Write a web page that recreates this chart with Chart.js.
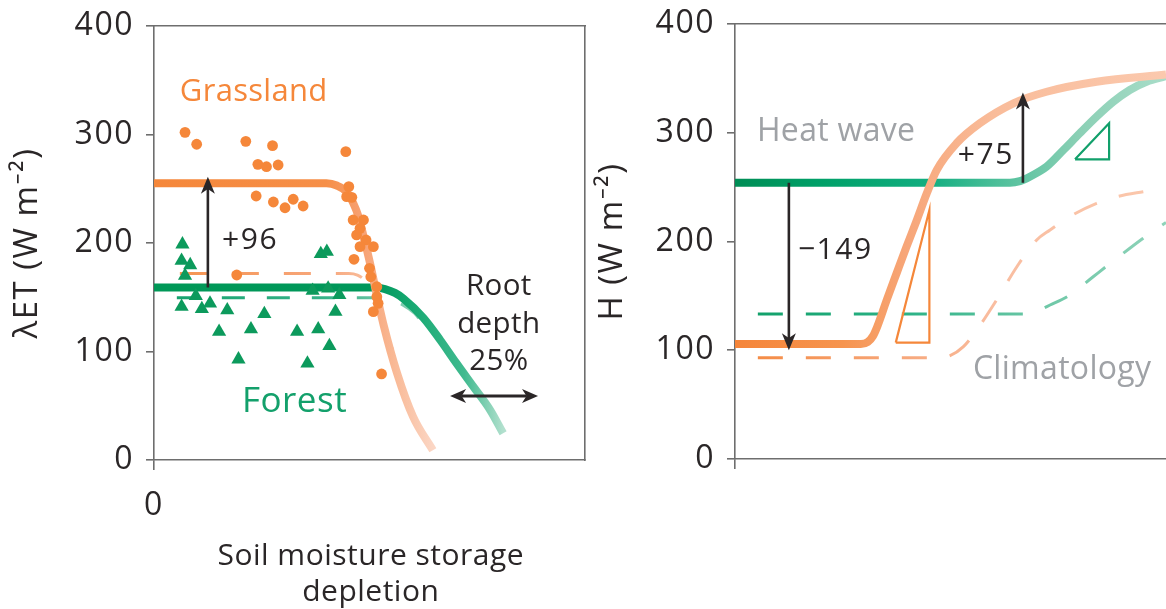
<!DOCTYPE html>
<html>
<head>
<meta charset="utf-8">
<script src="https://cdn.jsdelivr.net/npm/chart.js@4.4.1/dist/chart.umd.min.js"></script>
<style>
  html, body { margin: 0; padding: 0; background: #fff; overflow: hidden; width: 1166px; height: 609px; }
  canvas { position: absolute; top: 0; }
  #et { left: 0; }
  #h  { left: 590px; }
</style>
</head>
<body>
<canvas id="et" width="600" height="609"></canvas>
<canvas id="h" width="600" height="609"></canvas>
<script>
// ---------- Left panel: latent heat flux (λET) vs soil moisture storage depletion ----------
const yTicks = [0, 100, 200, 300, 400];
const xTicks = [0];

// heat-wave curves
const grassHeatX  = [0, 40, 42.4, 44.7, 46.2, 47.4, 48.7, 50.2, 51.8, 53.3, 56.4, 60.1, 64.7];
const grassHeatET = [255, 255, 253, 247, 237, 225, 205, 180, 150, 124, 80, 40, 9];
const forestHeatX  = [0, 51.5, 53.6, 55.9, 57.8, 62.5, 66.4, 70.2, 74.1, 78, 81];
const forestHeatET = [159, 159, 157.5, 154, 149, 131, 110.6, 89, 67.6, 46, 24.6];

// climatology curves
const grassClimX  = [6.0, 45.2, 47.2, 48.8, 50.6, 52.5, 54.0, 55.4];
const grassClimET = [172, 172, 170.5, 166, 155, 138, 120, 102];
const forestClimX  = [5.3, 50.5, 54.5, 57.7, 60.5, 62.5];
const forestClimET = [149.6, 149.6, 147.5, 143, 135, 125];

// site observations
const grassObsX  = [7.2, 9.9, 21.3, 27.5, 24.1, 26.1, 28.8, 44.5, 23.7, 27.7, 30.4, 32.3, 34.6, 45.2, 44.7, 45.9,
                    46.2, 48.6, 47.8, 47.0, 49.2, 50.9, 47.8, 46.4, 50.0, 50.3, 51.7, 51.7, 52.0, 50.9, 52.8, 19.2];
const grassObsET = [302, 291, 293.7, 289.7, 272.5, 270.3, 271.9, 284.2, 243.3, 237.8, 232.5, 240.3, 234.1, 251.9, 242.7, 242.1,
                    221.2, 221.2, 213.5, 207.4, 202.8, 196.6, 196.6, 185, 176.7, 168.9, 159.7, 150.5, 144.4, 136.7, 79.3, 170.5];
const forestObsX  = [6.6, 6.4, 8.4, 7.2, 9.7, 6.4, 11.1, 13.0, 17.0, 25.6, 15.1, 22.5, 33.2, 38.1, 42.1, 40.7,
                     19.6, 35.6, 38.7, 40.1, 36.8, 40.4, 43.0];
const forestObsET = [198.8, 183.7, 179.7, 169.9, 151.2, 141.3, 139.2, 144.4, 138, 134.6, 118.2, 120.5, 118.2, 120.5, 136.7, 105.1,
                     92.8, 89.1, 189.9, 192, 156, 158.2, 152.1];

// ---------- Right panel: sensible heat flux (H) ----------
const forestHeatHX = [0, 63.8, 66.1, 68.4, 72.3, 76.2, 80.0, 83.9, 87.8, 91.6, 95.5, 100];
const forestHeatH  = [254, 254, 255.5, 259.6, 268.8, 284.1, 299.5, 314.8, 328.6, 339.3, 346.9, 352];
const grassHeatHX  = [0, 29.2, 30.8, 32.0, 33.0, 35.2, 37.5, 39.8, 42.2, 44.5, 46.8, 51.4, 56.8, 64.6, 72.3, 83.9, 100];
const grassHeatH   = [105.7, 105.7, 107.5, 113, 121.7, 146.2, 170.8, 195.2, 219.8, 244.3, 265.7, 290.3, 308.7, 327.1, 337.7, 346.9, 353.5];
const forestClimHX = [5.3, 66.8, 69.6, 73.1, 77.7, 83.1, 88.6, 94.7, 100];
const forestClimH  = [133.3, 133.3, 135.5, 141.6, 150.8, 167.6, 184.6, 203, 217.5];
const grassClimHX  = [5.3, 44.5, 47.5, 49.9, 53.0, 56.1, 60.7, 65.4, 70.0, 73.1, 77.7, 83.9, 88.6, 94.7, 100];
const grassClimH   = [93.2, 93.2, 93.4, 95, 103.3, 118.6, 146.2, 176.8, 201.4, 210.6, 223, 235.1, 241.2, 245.8, 249.2];

// slope wedges drawn beside the rising curves
const grassWedgeX  = [37.3, 45.1, 45.1, 37.3];
const grassWedgeH  = [107, 107, 229, 107];
const forestWedgeX = [78.9, 86.8, 86.8, 78.9];
const forestWedgeH = [275.6, 275.6, 308.7, 275.6];

// ---------- styling ----------
const FONT = "'Open Sans', 'Noto Sans', sans-serif";
const WEIGHT = 400;
const INK = '#2a2627';
const AXIS = '#6e6e6e';
const ORANGE = '#F5873A';
const GREEN = '#0C9A5C';
const GREY = '#9FA2A6';

Chart.defaults.font.family = FONT;
Chart.defaults.font.weight = WEIGHT;
Chart.defaults.color = INK;

const zip = (xs, ys) => xs.map((x, i) => ({ x, y: ys[i] }));

// horizontal colour fade along the x scale
function fade(stops) {
  return (c) => {
    const chart = c.chart, area = chart.chartArea, sx = chart.scales.x;
    if (!area) return stops[0][1];
    const g = chart.ctx.createLinearGradient(area.left, 0, area.right, 0);
    const w = area.right - area.left;
    stops.forEach(([v, col]) => {
      const t = Math.min(1, Math.max(0, (sx.getPixelForValue(v) - area.left) / w));
      g.addColorStop(t, col);
    });
    return g;
  };
}

function curve(data, stops, width, dash, order) {
  return {
    data, showLine: true, pointRadius: 0, borderWidth: width,
    borderColor: fade(stops), borderDash: dash || [], cubicInterpolationMode: 'monotone',
    borderCapStyle: 'butt', fill: false, order
  };
}

function wedge(data, color) {
  return {
    data, showLine: true, pointRadius: 0, borderWidth: 2.2, borderColor: color,
    tension: 0, borderJoinStyle: 'miter', fill: false, order: 0
  };
}

// open letter spacing for the axis text
const tracking = {
  id: 'tracking',
  beforeDraw(chart) { chart.ctx.letterSpacing = '1.5px'; }
};

// arrows and free text placed in data coordinates
const annotate = {
  id: 'annotate',
  afterDatasetsDraw(chart, args, opts) {
    const { ctx, scales: { x, y } } = chart;
    ctx.save();
    const head = (px, py, ang, hl, hw) => {
      ctx.beginPath();
      ctx.moveTo(px, py);
      ctx.lineTo(px - hl * Math.cos(ang) + hw / 2 * Math.sin(ang), py - hl * Math.sin(ang) - hw / 2 * Math.cos(ang));
      ctx.lineTo(px - hl * 0.72 * Math.cos(ang), py - hl * 0.72 * Math.sin(ang));
      ctx.lineTo(px - hl * Math.cos(ang) - hw / 2 * Math.sin(ang), py - hl * Math.sin(ang) + hw / 2 * Math.cos(ang));
      ctx.closePath();
      ctx.fill();
    };
    (opts.arrows || []).forEach(a => {
      const x0 = x.getPixelForValue(a.x0), y0 = y.getPixelForValue(a.y0);
      const x1 = x.getPixelForValue(a.x1), y1 = y.getPixelForValue(a.y1);
      const ang = Math.atan2(y1 - y0, x1 - x0);
      const hl = a.hl || 17, hw = a.hw || 14;
      ctx.strokeStyle = INK; ctx.fillStyle = INK; ctx.lineWidth = a.lw || 2.6;
      const s = a.both ? hl * 0.7 : 0;
      ctx.beginPath();
      ctx.moveTo(x0 + s * Math.cos(ang), y0 + s * Math.sin(ang));
      ctx.lineTo(x1 - hl * 0.7 * Math.cos(ang), y1 - hl * 0.7 * Math.sin(ang));
      ctx.stroke();
      head(x1, y1, ang, hl, hw);
      if (a.both) head(x0, y0, ang + Math.PI, hl, hw);
    });
    (opts.labels || []).forEach(l => {
      ctx.font = `${l.weight || WEIGHT} ${l.size}px ${FONT}`;
      ctx.letterSpacing = (l.track || 0) + 'px';
      ctx.fillStyle = l.color;
      ctx.textAlign = l.align || 'left';
      ctx.textBaseline = 'middle';
      const px = x.getPixelForValue(l.x), py = y.getPixelForValue(l.y);
      [].concat(l.text).forEach((t, i) => ctx.fillText(t, px, py + i * (l.lh || 0)));
    });
    ctx.restore();
  }
};

const noPad = s => { s.paddingTop = 0; s.paddingBottom = 0; s.paddingLeft = 0; s.paddingRight = 0; };

function axes(opts) {
  const border = { display: true, color: AXIS, width: 1.6 };
  return {
    x: {
      type: 'linear', position: 'bottom', min: 0, max: 100,
      afterBuildTicks: s => { s.ticks = xTicks.map(v => ({ value: v })); },
      ticks: { font: { size: 32 }, color: INK, padding: 17, maxRotation: 0, autoSkip: false,
               callback: opts.showX0 ? (v => String(v)) : (() => '') },
      grid: { drawOnChartArea: false, drawTicks: true, tickLength: 10, color: AXIS, lineWidth: 1.6 },
      border,
      afterFit: s => { s.height = opts.bottomH; noPad(s); }
    },
    xTop: {
      type: 'linear', position: 'top', min: 0, max: 100,
      ticks: { display: false }, grid: { display: false }, border,
      afterFit: s => { s.height = 0; noPad(s); }
    },
    y: {
      type: 'linear', min: 0, max: 400,
      afterBuildTicks: s => { s.ticks = yTicks.map(v => ({ value: v })); },
      ticks: { font: { size: 32 }, color: INK, padding: 12 },
      grid: { drawOnChartArea: false, drawTicks: true, tickLength: 8, color: AXIS, lineWidth: 1.6 },
      border,
      title: { display: true, text: opts.yTitle, font: { size: 33 }, color: INK,
               padding: { top: opts.titlePad, bottom: 0 } },
      afterFit: s => { s.width = opts.leftW; noPad(s); }
    },
    ...(opts.rightBorder ? {
      yRight: {
        type: 'linear', position: 'right', min: 0, max: 400,
        ticks: { display: false }, grid: { display: false }, border,
        afterFit: s => { s.width = 0; noPad(s); }
      }
    } : {})
  };
}

// ---------- λET chart ----------
new Chart(document.getElementById('et'), {
  type: 'scatter',
  data: {
    datasets: [
      { data: zip(grassObsX, grassObsET), pointRadius: 5.4, pointBackgroundColor: ORANGE,
        pointBorderWidth: 0, pointStyle: 'circle', order: 0 },
      { data: zip(forestObsX, forestObsET), pointRadius: 8.2, pointBackgroundColor: GREEN,
        pointBorderWidth: 0, pointStyle: 'triangle', order: 1 },
      curve(zip(grassHeatX, grassHeatET),
        [[0, '#F5873A'], [40, '#F68F48'], [48, '#F7A071'], [56, '#F9BA97'], [64.7, '#FBD6C4']], 8, null, 2),
      curve(zip(forestHeatX, forestHeatET),
        [[0, '#009857'], [51, '#00975A'], [60, '#17A972'], [72, '#40BA8F'], [81, '#B2E0CE']], 8, null, 3),
      curve(zip(grassClimX, grassClimET),
        [[0, '#F5914A'], [40, '#F7A77C'], [55, '#FACAAE']], 3, [27, 25], 4),
      curve(zip(forestClimX, forestClimET),
        [[0, '#12A06B'], [40, '#36B389'], [62, '#8FD1B8']], 3, [23, 22], 5)
    ]
  },
  options: {
    responsive: false, animation: false, events: [],
    layout: { padding: { top: 26, right: 15, left: 0, bottom: 0 } },
    plugins: {
      legend: { display: false }, tooltip: { enabled: false },
      annotate: {
        arrows: [
          { x0: 12.5, y0: 159, x1: 12.5, y1: 261 },
          { x0: 68.7, y0: 59, x1: 89.1, y1: 59, both: true, lw: 3.2, hl: 16, hw: 14 }
        ],
        labels: [
          { text: 'Grassland', x: 6.0, y: 339, size: 31, track: 0.3, color: ORANGE },
          { text: 'Forest', x: 20.4, y: 53.5, size: 35, track: 0.5, color: '#13A06B' },
          { text: '+96', x: 15.8, y: 202.8, size: 30, track: 1.5, color: INK },
          { text: ['Root', 'depth', '25%'], x: 80.0, y: 159.4, size: 29.5, track: 0.4, color: INK, align: 'center', lh: 37.5 },
          { text: ['Soil moisture storage', 'depletion'], x: 50.3, y: -88.5, size: 30, track: 0.5, color: INK, align: 'center', lh: 36 }
        ]
      }
    },
    scales: axes({ showX0: true, bottomH: 149, leftW: 154, yTitle: 'λET (W m⁻²)', titlePad: 8, rightBorder: true })
  },
  plugins: [tracking, annotate]
});

// ---------- H chart ----------
new Chart(document.getElementById('h'), {
  type: 'scatter',
  data: {
    datasets: [
      wedge(zip(grassWedgeX, grassWedgeH), '#F5873A'),
      wedge(zip(forestWedgeX, forestWedgeH), '#12A06B'),
      curve(zip(grassHeatHX, grassHeatH),
        [[0, '#F5853A'], [25, '#F6944E'], [40, '#F7A679'], [60, '#F9BC9A'], [100, '#FBC9AE']], 8, null, 1),
      curve(zip(forestHeatHX, forestHeatH),
        [[0, '#008D55'], [20, '#00A068'], [45, '#12AE80'], [65, '#5CC3A0'], [80, '#8BD0B5'], [100, '#A9DDC9']], 8, null, 2),
      curve(zip(forestClimHX, forestClimH),
        [[0, '#0E9E66'], [40, '#2BB286'], [70, '#6CC7A6'], [100, '#8FD3B9']], 3, [25, 23], 3),
      curve(zip(grassClimHX, grassClimH),
        [[0, '#F4883E'], [40, '#F7A87C'], [60, '#F9BDA0'], [100, '#FBC8AD']], 3, [25, 23], 4)
    ]
  },
  options: {
    responsive: false, animation: false, events: [],
    layout: { padding: { top: 24, right: 24, left: 0, bottom: 0 } },
    plugins: {
      legend: { display: false }, tooltip: { enabled: false },
      annotate: {
        arrows: [
          { x0: 12.5, y0: 254, x1: 12.5, y1: 100 },
          { x0: 66.8, y0: 254, x1: 66.8, y1: 337 }
        ],
        labels: [
          { text: 'Heat wave', x: 5.1, y: 301, size: 32, track: 0.3, color: GREY },
          { text: 'Climatology', x: 55.2, y: 81.8, size: 32, track: 0.3, color: GREY },
          { text: '−149', x: 14.6, y: 192.2, size: 30, track: 1.5, color: INK },
          { text: '+75', x: 51.7, y: 279.5, size: 30, track: 1.5, color: INK }
        ]
      }
    },
    scales: axes({ showX0: false, bottomH: 150, leftW: 145, yTitle: 'H (W m⁻²)', titlePad: 3, rightBorder: false })
  },
  plugins: [tracking, annotate]
});
</script>
</body>
</html>
